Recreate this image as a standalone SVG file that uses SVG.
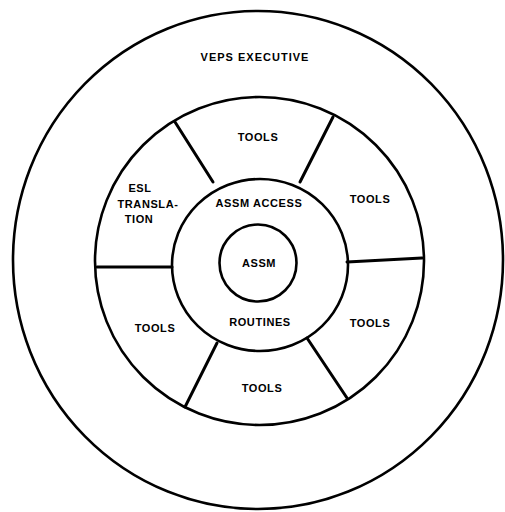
<svg xmlns="http://www.w3.org/2000/svg" width="505" height="512" viewBox="0 0 505 512">
<style>
.ring{fill:none;stroke:#000;stroke-width:2.6}
.spoke{stroke:#000;stroke-width:3;stroke-linecap:round}
.lbl{font-family:"Liberation Sans",Arial,sans-serif;font-weight:bold;font-size:11px;fill:#000;text-anchor:middle;dominant-baseline:central;letter-spacing:0.6px}
</style>
<rect width="505" height="512" fill="#fff"/>
<g id="executive">
<ellipse class="ring" cx="258" cy="260" rx="245" ry="249"/>
<text class="lbl" x="255" y="57" style="letter-spacing:1px">VEPS EXECUTIVE</text>
</g>
<g id="tools-ring">
<ellipse class="ring" cx="259.5" cy="261" rx="164.5" ry="164"/>
</g>
<g id="assm-access">
<ellipse class="ring" cx="260" cy="265" rx="88" ry="86"/>
<text class="lbl" x="259" y="203">ASSM ACCESS</text>
<text class="lbl" x="260" y="322">ROUTINES</text>
</g>
<g id="assm">
<circle class="ring" cx="258" cy="263" r="38.5"/>
<text class="lbl" x="259" y="263">ASSM</text>
</g>
<g id="connectors">
<line class="spoke" x1="213" y1="182" x2="175" y2="122"/>
<line class="spoke" x1="300" y1="182" x2="333" y2="117"/>
<line class="spoke" x1="347" y1="262" x2="422" y2="258"/>
<line class="spoke" x1="307" y1="338" x2="347" y2="398"/>
<line class="spoke" x1="217" y1="343" x2="185" y2="407"/>
<line class="spoke" x1="97" y1="267" x2="172" y2="267"/>
</g>
<g id="tools-top"><text class="lbl" x="258" y="137">TOOLS</text></g>
<g id="tools-upper-right"><text class="lbl" x="370" y="199">TOOLS</text></g>
<g id="tools-lower-right"><text class="lbl" x="370" y="323">TOOLS</text></g>
<g id="tools-bottom"><text class="lbl" x="262" y="388">TOOLS</text></g>
<g id="tools-left"><text class="lbl" x="155" y="328">TOOLS</text></g>
<g id="esl-translation">
<text class="lbl" x="140" y="188">ESL</text>
<text class="lbl" x="148" y="204">TRANSLA-</text>
<text class="lbl" x="139" y="219">TION</text>
</g>
</svg>
